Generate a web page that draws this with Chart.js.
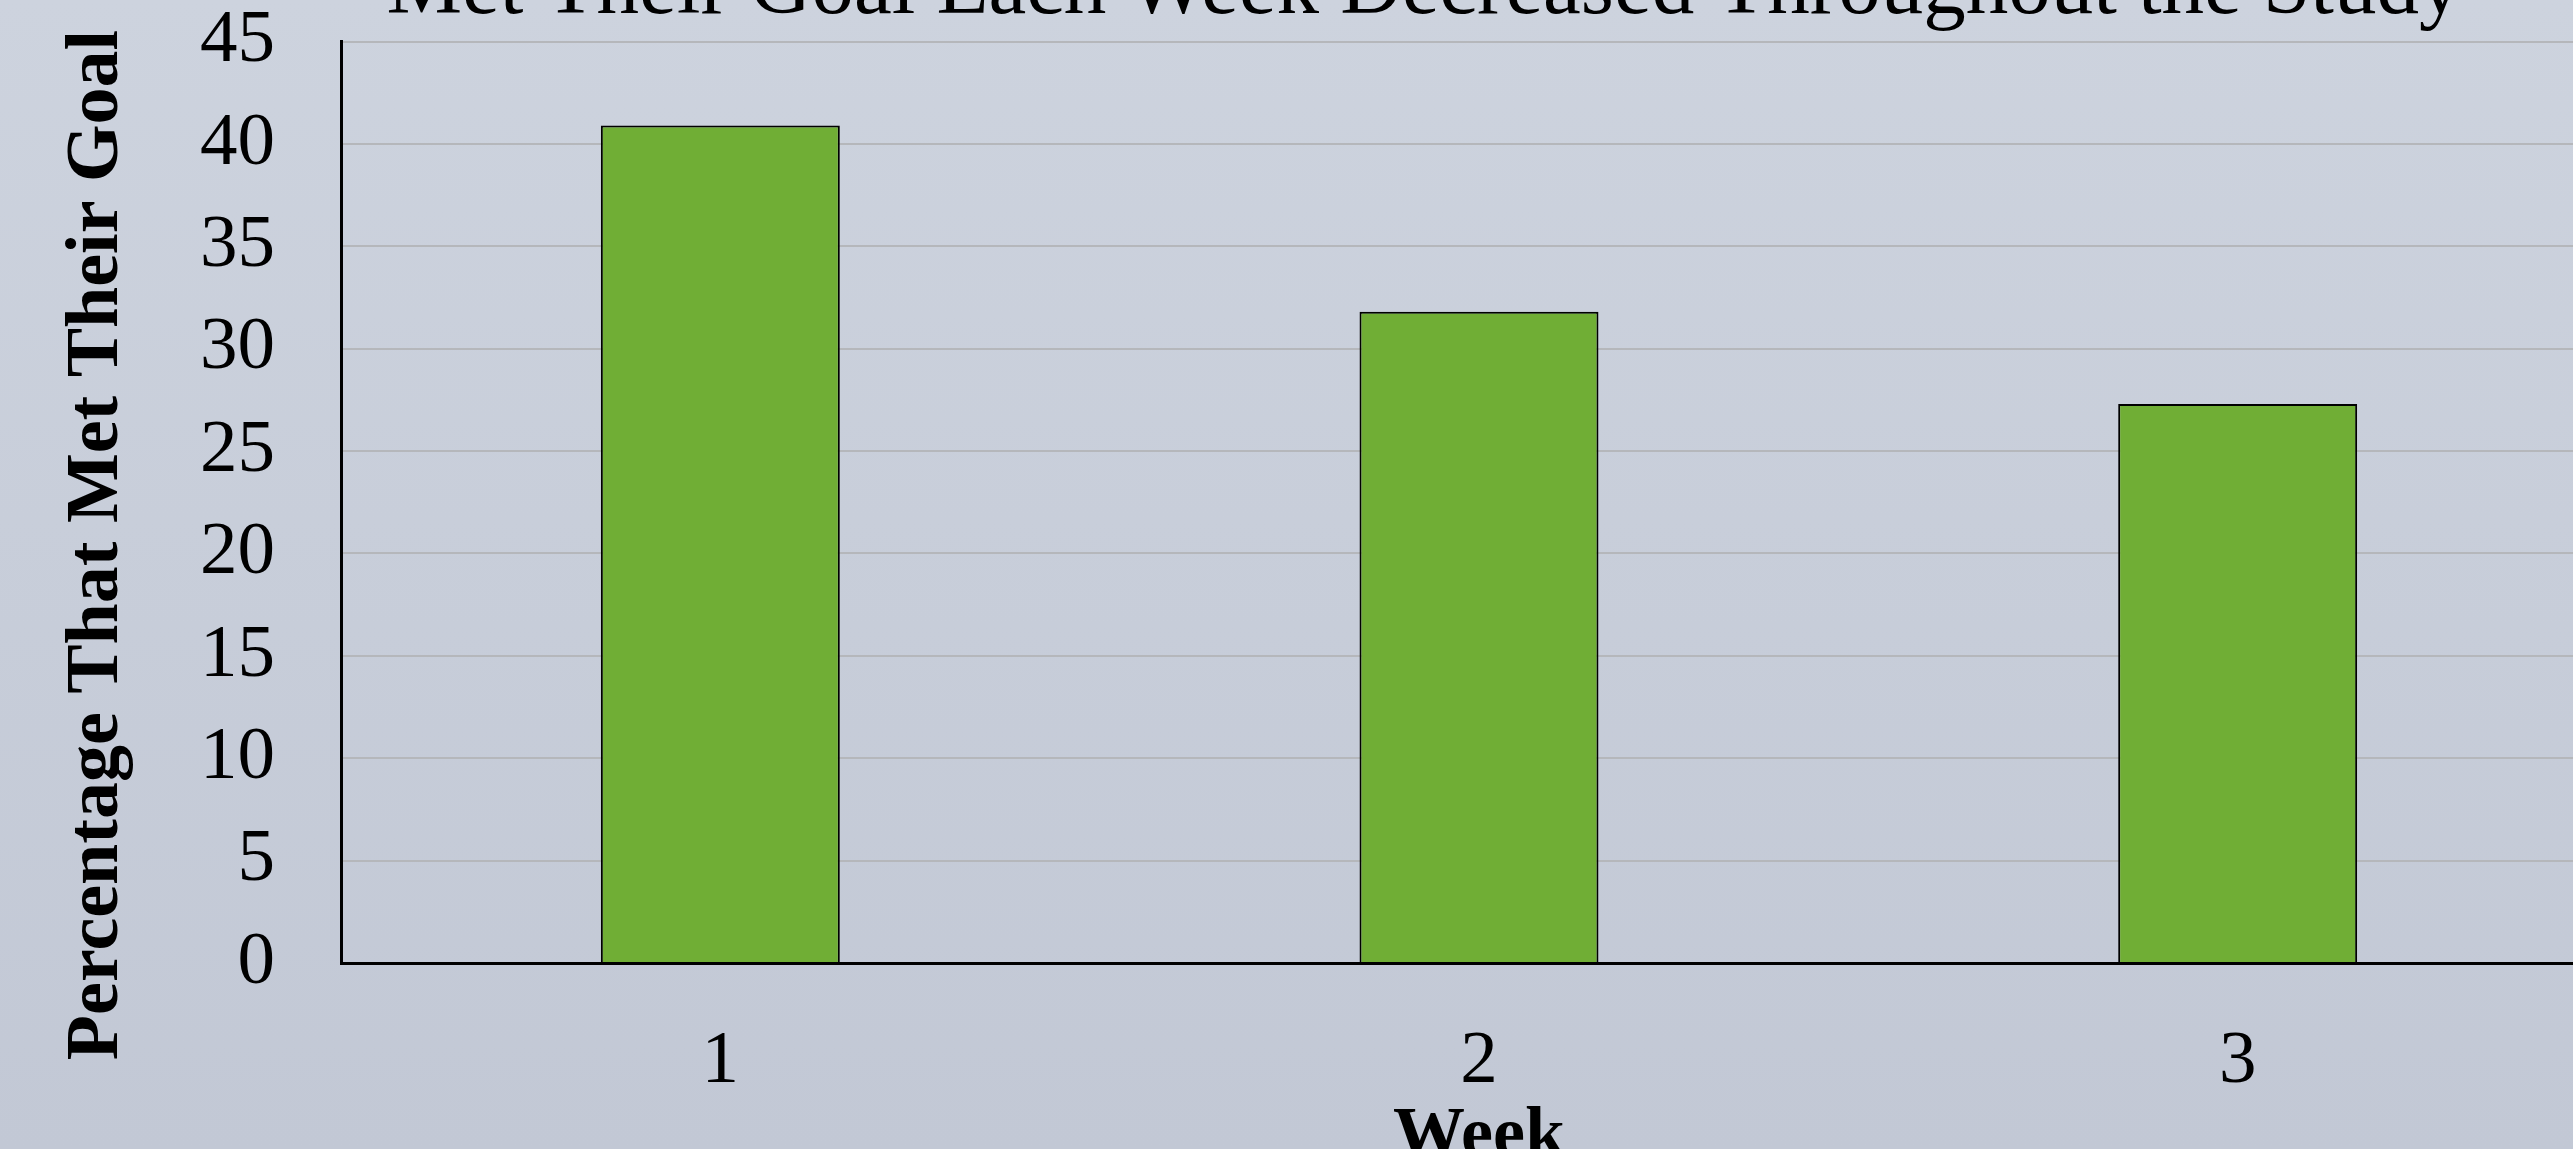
<!DOCTYPE html>
<html>
<head>
<meta charset="utf-8">
<title>Met Their Goal Each Week</title>
<script src="https://cdn.jsdelivr.net/npm/chart.js@4.4.1/dist/chart.umd.min.js"></script>
<style>
  html, body {
    margin: 0;
    padding: 0;
    width: 2573px;
    height: 1149px;
    overflow: hidden;
    background: linear-gradient(to bottom, #cdd3de 0%, #c2c8d5 100%);
  }
  /* the picture is a crop: the chart's top and right run past the window */
  #chart {
    position: absolute;
    left: 0;
    top: -62px;
  }
</style>
</head>
<body>
<canvas id="chart" width="2640" height="1235"></canvas>
<script>
// Data
const weeks = ['1', '2', '3'];
const percentMetGoal = [40.9, 31.8, 27.3];

const titleText = 'Met Their Goal Each Week Decreased Throughout the Study';
const yTitle = 'Percentage That Met Their Goal';
const xTitle = 'Week';

const serif = "'Liberation Serif', 'Times New Roman', serif";

// The main title and the y title sit off-centre in the original, so they are
// drawn here instead of by the title plugin / scale title.
const freeTitles = {
  id: 'freeTitles',
  afterDraw(chart) {
    const { ctx } = chart;
    ctx.save();
    ctx.fillStyle = '#000000';
    ctx.textAlign = 'center';

    // main title (its first line is above the visible area)
    ctx.font = `normal 85px ${serif}`;
    ctx.textBaseline = 'alphabetic';
    ctx.fillText(titleText, 1424, 75);

    // rotated y title
    ctx.font = `bold 74px ${serif}`;
    ctx.textBaseline = 'middle';
    ctx.translate(98, 607);
    ctx.rotate(-Math.PI / 2);
    ctx.fillText(yTitle, 0, 0);
    ctx.restore();
  }
};

const ctx = document.getElementById('chart');

new Chart(ctx, {
  type: 'bar',
  data: {
    labels: weeks,
    datasets: [{
      data: percentMetGoal,
      backgroundColor: '#70ae35',
      borderColor: '#000000',
      borderWidth: 2,
      categoryPercentage: 1,
      barPercentage: 0.315
    }]
  },
  options: {
    responsive: false,
    animation: false,
    devicePixelRatio: 1,
    layout: {
      padding: { left: 134, right: 23, top: 0, bottom: 0 }
    },
    plugins: {
      legend: { display: false },
      tooltip: { enabled: false },
      title: { display: false }
    },
    scales: {
      x: {
        grid: { display: false, drawTicks: false },
        border: { color: '#000000', width: 3 },
        ticks: {
          color: '#000000',
          padding: 62,
          font: { family: serif, size: 75, lineHeight: 1.0 }
        },
        title: {
          display: true,
          text: xTitle,
          color: '#000000',
          font: { family: serif, size: 72, weight: 'bold', lineHeight: 1.0 },
          padding: { top: -61, bottom: 0 }
        }
      },
      y: {
        min: 0,
        max: 45,
        ticks: {
          stepSize: 5,
          color: '#000000',
          padding: 66,
          font: { family: serif, size: 75, lineHeight: 1.0 }
        },
        grid: { color: '#b5b7bb', lineWidth: 2, drawTicks: false },
        border: { color: '#000000', width: 3 }
      }
    }
  },
  plugins: [freeTitles]
});
</script>
</body>
</html>
